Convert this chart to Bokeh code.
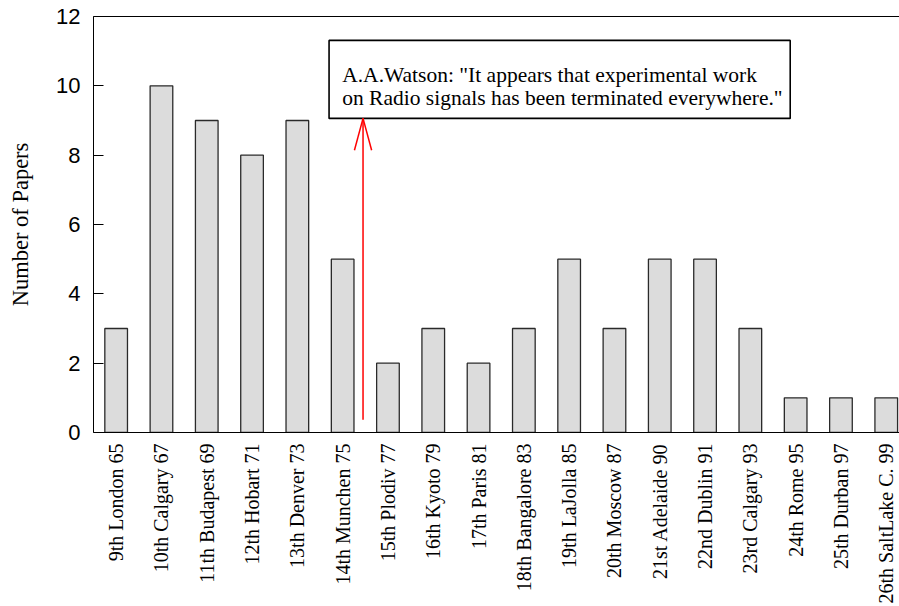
import math
from bokeh.plotting import figure
from bokeh.models import (ColumnDataSource, Range1d, LinearAxis, FixedTicker,
                          Label, BoxAnnotation, Arrow)
from bokeh.embed import file_html
from bokeh.resources import INLINE

# ---- data ----
conferences = ["9th London 65", "10th Calgary 67", "11th Budapest 69", "12th Hobart 71",
               "13th Denver 73", "14th Munchen 75", "15th Plodiv 77", "16th Kyoto 79",
               "17th Paris 81", "18th Bangalore 83", "19th LaJolla 85", "20th Moscow 87",
               "21st Adelaide 90", "22nd Dublin 91", "23rd Calgary 93", "24th Rome 95",
               "25th Durban 97", "26th SaltLake C. 99"]
papers = [3, 10, 9, 8, 9, 5, 2, 3, 2, 3, 5, 3, 5, 5, 3, 1, 1, 1]
y_ticks = [0, 2, 4, 6, 8, 10, 12]
note_lines = ['A.A.Watson: "It appears that experimental work',
              'on Radio signals has been terminated everywhere."']

idx = list(range(len(conferences)))
src = ColumnDataSource(dict(x=idx, top=papers))

W, H = 899, 606
LEFT, TOP = 93, 16
FRAME_H = 417
BOTTOM = H - TOP - FRAME_H
px_per_unit = 45.3
x_end = -0.5 + (W - LEFT) / px_per_unit

p = figure(width=W, height=H, output_backend="svg", toolbar_location=None,
           x_range=Range1d(-0.5, x_end), y_range=Range1d(0, 12),
           x_axis_type=None, y_axis_type=None,
           min_border_left=LEFT, min_border_top=TOP, min_border_bottom=BOTTOM,
           min_border_right=0)
p.outline_line_color = None
p.xgrid.visible = False
p.ygrid.visible = False
p.background_fill_color = "white"
p.border_fill_color = "white"

# left axis
yax = LinearAxis(ticker=FixedTicker(ticks=y_ticks), axis_label="Number of Papers")
yax.axis_line_color = "black"
yax.major_tick_in = 10
yax.major_tick_out = 0
yax.minor_tick_line_color = None
yax.major_tick_line_color = "black"
yax.major_label_standoff = 13
yax.major_label_text_font = "Liberation Sans"
yax.major_label_text_font_size = "22px"
yax.major_label_text_color = "black"
yax.axis_label_text_font = "Liberation Serif"
yax.axis_label_text_font_size = "22.5px"
yax.axis_label_text_font_style = "normal"
yax.axis_label_text_color = "black"
yax.axis_label_standoff = 20
p.add_layout(yax, "left")

# bottom axis with conference labels
xax = LinearAxis(ticker=FixedTicker(ticks=idx))
xax.major_label_overrides = {i: lab for i, lab in zip(idx, conferences)}
xax.major_label_orientation = math.pi / 2
xax.axis_line_color = "black"
xax.major_tick_line_color = None
xax.major_tick_in = 0
xax.major_tick_out = 0
xax.minor_tick_line_color = None
xax.major_label_standoff = 11
xax.major_label_text_font = "Liberation Serif"
xax.major_label_text_font_size = "20px"
xax.major_label_text_color = "black"
p.add_layout(xax, "below")

# top line
tax = LinearAxis(ticker=FixedTicker(ticks=[]))
tax.axis_line_color = "black"
tax.major_tick_line_color = None
tax.minor_tick_line_color = None
tax.major_label_text_font_size = "0px"
p.add_layout(tax, "above")

p.vbar(x="x", top="top", width=0.5, bottom=0, source=src,
       fill_color="#dcdcdc", line_color="#2a2a2a", line_width=1.3)

# annotation box
box = BoxAnnotation(left=4.70, right=14.88, bottom=9.06, top=11.31,
                    fill_color="white", fill_alpha=1.0,
                    line_color="black", line_alpha=1.0, line_width=1.6)
p.add_layout(box)
for txt, yy in zip(note_lines, [10.30, 9.64]):
    p.add_layout(Label(x=4.99, y=yy, text=txt, text_font="Liberation Serif",
                       text_font_size="21.5px", text_color="black",
                       text_baseline="alphabetic", text_align="left"))

# arrow
ax0, ay0, ay1 = 5.45, 0.37, 9.06
p.add_layout(Arrow(x_start=ax0, y_start=ay0, x_end=ax0, y_end=ay1, end=None,
                   line_color="red", line_width=1.5))
for dx in (-0.19, 0.19):
    p.add_layout(Arrow(x_start=ax0 + dx, y_start=ay1 - 0.92, x_end=ax0, y_end=ay1,
                       end=None, line_color="red", line_width=1.5))

open("out.html", "w").write(file_html(p, INLINE))
